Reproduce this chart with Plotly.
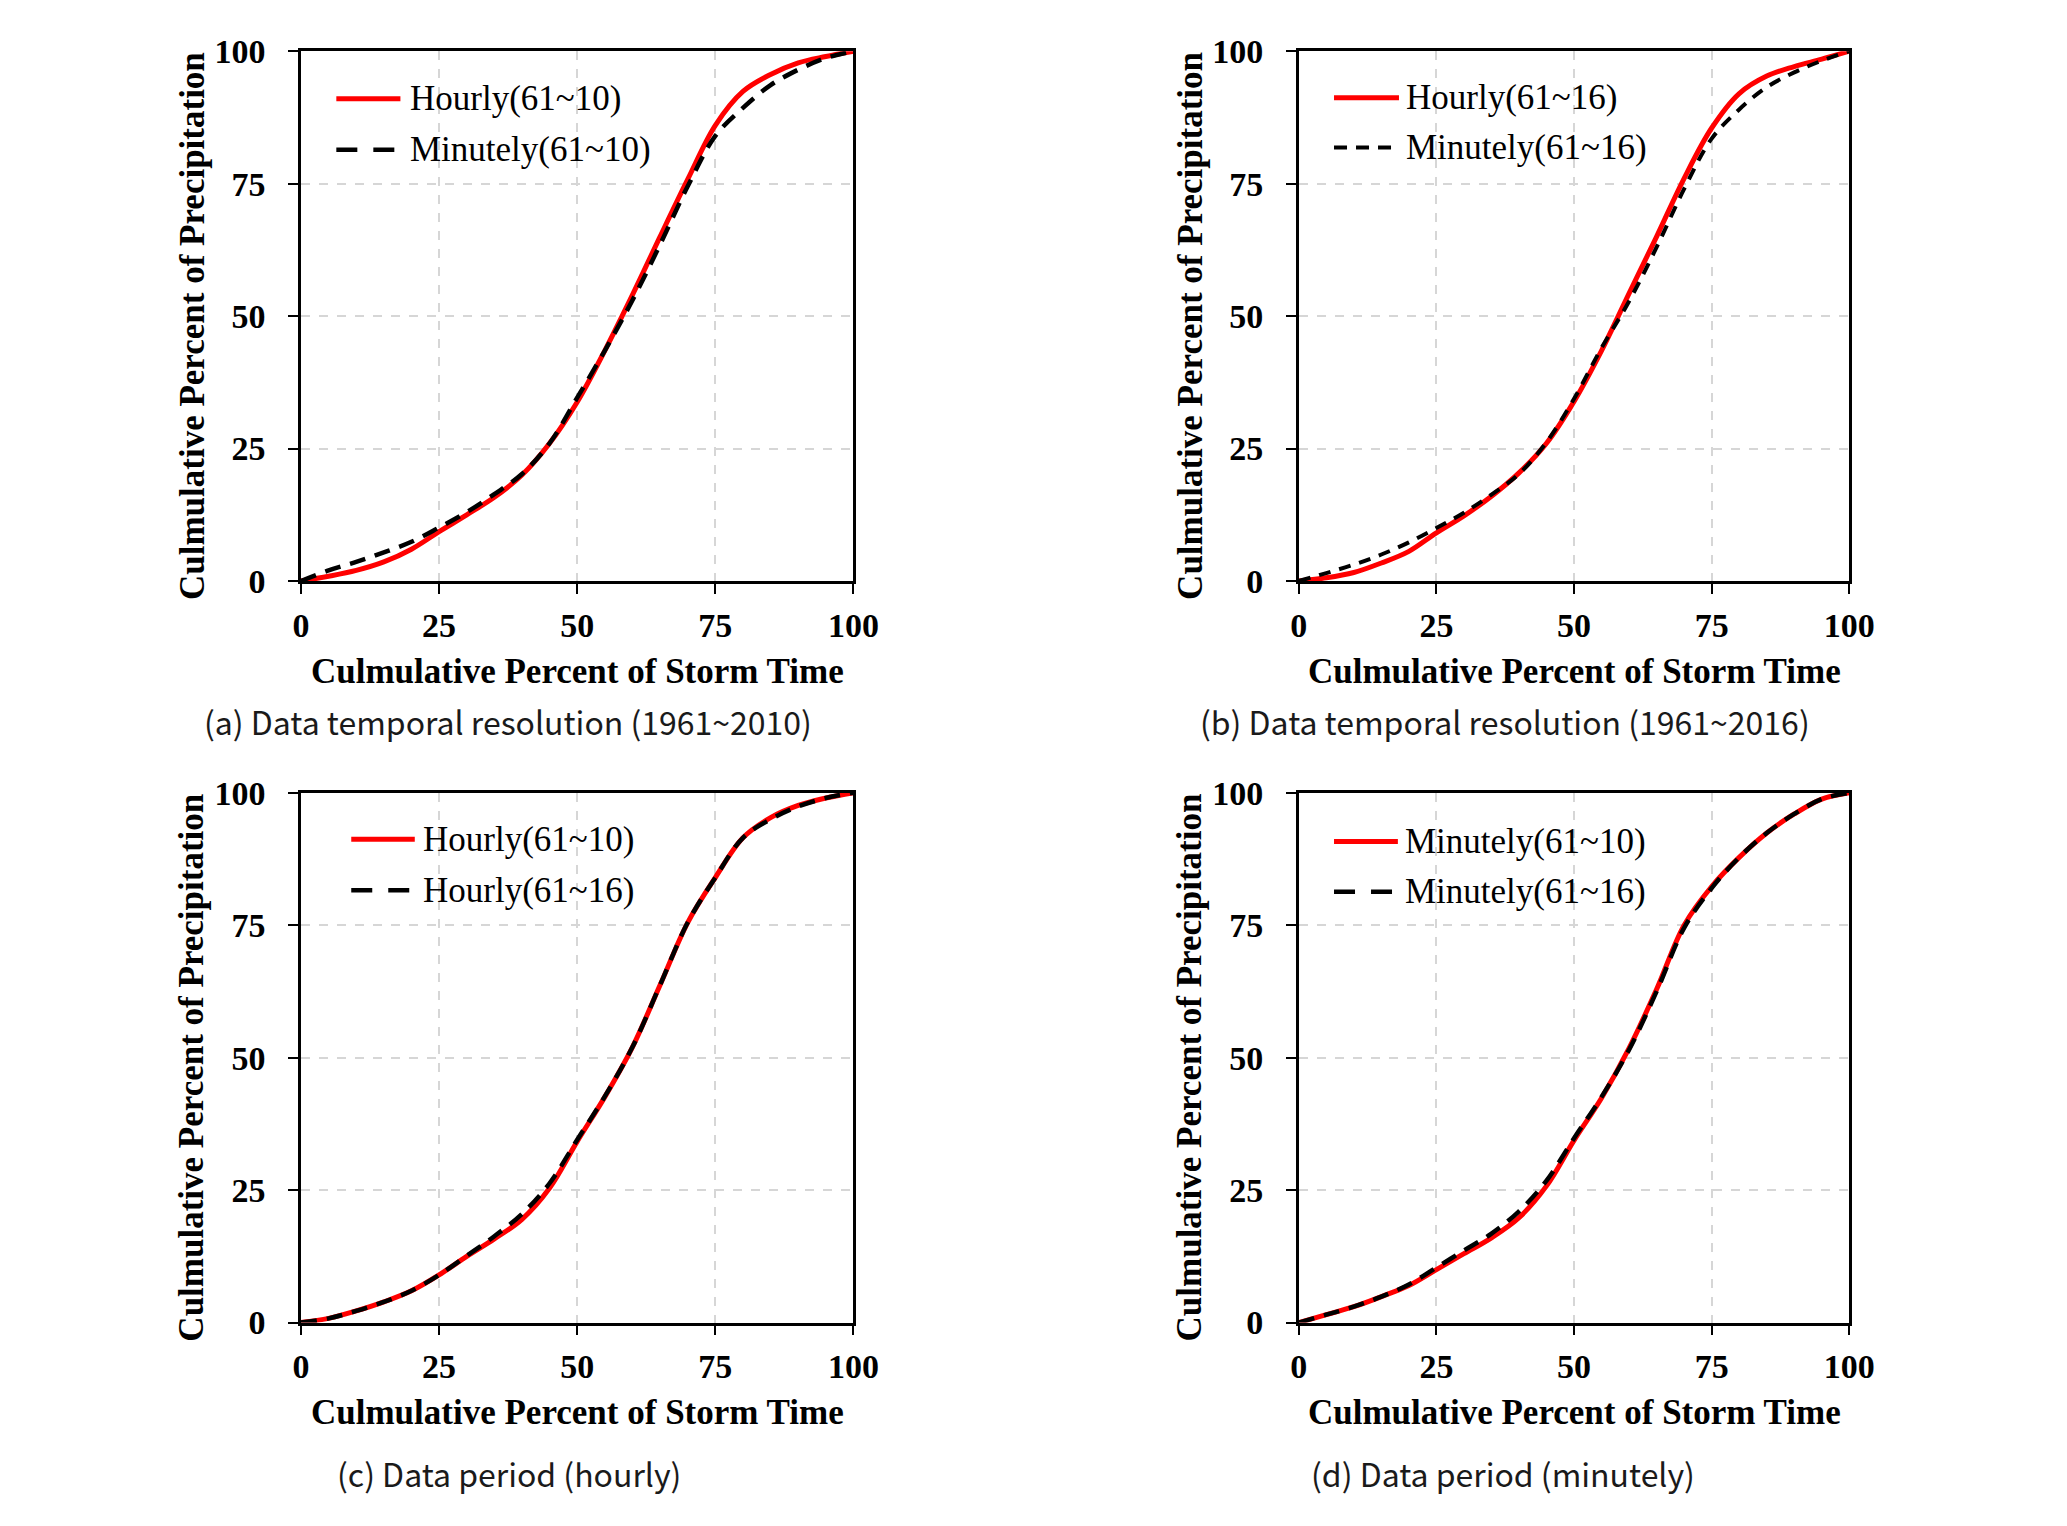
import plotly.graph_objects as go

# ---------------- data ----------------
x_pct = [0, 5, 10, 15, 20, 25, 30, 35, 40, 45, 50, 55, 60, 65, 70, 75, 80, 85, 90, 95, 100]

a_hourly_61_10 = [0, 0.9, 2.0, 3.6, 6.0, 9.3, 12.5, 15.8, 20.0, 26.0, 33.8, 43.5, 54.0, 65.0, 75.8, 86.0, 92.4, 95.6, 97.8, 99.0, 100]
a_minutely_61_10 = [0, 2.0, 3.6, 5.4, 7.4, 10.1, 13.0, 16.4, 20.2, 26.0, 34.6, 43.5, 53.0, 63.5, 74.5, 84.0, 89.3, 93.6, 96.5, 98.7, 100]

b_hourly_61_16 = [0, 0.6, 1.6, 3.4, 5.6, 9.1, 12.3, 16.0, 20.4, 26.0, 33.9, 43.5, 54.3, 65.0, 76.0, 85.5, 92.0, 95.3, 97.1, 98.5, 100]
b_minutely_61_16 = [0, 1.5, 3.1, 5.0, 7.3, 10.0, 12.9, 16.3, 20.2, 26.2, 34.4, 44.0, 52.8, 63.0, 74.0, 83.5, 89.0, 93.2, 96.0, 98.2, 100]

c_hourly_61_10 = [0, 0.8, 2.2, 3.9, 6.0, 9.0, 12.5, 15.8, 19.5, 25.4, 34.2, 42.6, 52.0, 63.7, 75.5, 84.0, 91.5, 95.3, 97.6, 99.0, 100]
c_hourly_61_16 = [0, 0.8, 2.2, 3.9, 6.0, 9.0, 12.6, 16.3, 20.5, 26.3, 34.5, 42.7, 52.0, 63.7, 75.5, 84.0, 91.5, 95.0, 97.4, 99.0, 100]

d_minutely_61_10 = [0, 1.5, 3.0, 4.9, 7.0, 10.0, 13.0, 16.0, 19.8, 25.8, 34.4, 42.4, 51.8, 62.9, 75.0, 82.3, 87.8, 92.4, 96.0, 98.8, 100]
d_minutely_61_16 = [0, 1.5, 3.0, 4.9, 7.2, 10.4, 13.6, 16.8, 21.0, 26.8, 34.8, 42.6, 51.5, 62.5, 74.5, 82.0, 87.8, 92.4, 96.0, 98.8, 100]

tick_vals = [0, 25, 50, 75, 100]
tick_text = ["0", "25", "50", "75", "100"]

series_names = [
    ("Hourly(61~10)", "Minutely(61~10)"),
    ("Hourly(61~16)", "Minutely(61~16)"),
    ("Hourly(61~10)", "Hourly(61~16)"),
    ("Minutely(61~10)", "Minutely(61~16)"),
]
series_values = [
    (a_hourly_61_10, a_minutely_61_10),
    (b_hourly_61_16, b_minutely_61_16),
    (c_hourly_61_10, c_hourly_61_16),
    (d_minutely_61_10, d_minutely_61_16),
]
captions = [
    "(a) Data temporal resolution (1961~2010)",
    "(b) Data temporal resolution (1961~2016)",
    "(c) Data period (hourly)",
    "(d) Data period (minutely)",
]
x_title = "Culmulative Percent of Storm Time"
y_title = "Culmulative Percent of Precipitation"

# ---------------- layout geometry ----------------
W, H = 2067, 1526
col_px = [(297, 859), (1312, 1872)]
row_px = [(34, 577), (794, 1337)]
panel_pos = [(0, 0), (1, 0), (0, 1), (1, 1)]
caption_y = [720, 720, 1491, 1491]
caption_x = [508, 1522, 509, 1520]
legend_x = [  # (line start, line end, text start) in axis-domain units
    (0.064, 0.180, 0.193),
    (0.064, 0.182, 0.191),
    (0.091, 0.206, 0.217),
    (0.064, 0.180, 0.190),
]
legend_rows = [(0.910, 0.814), (0.912, 0.818), (0.912, 0.816), (0.908, 0.813)]
dash_styles = ["16px,10px", "12px,9px", "16px,10px", "16px,10px"]
legend_dash = ["21px,16px", "13px,9px", "21px,16px", "21px,16px"]
dash_widths = [4.5, 4.0, 4.5, 4.5]

SERIF = "Liberation Serif, Times New Roman, serif"
CAPFONT = "Noto Sans CJK KR, Noto Sans, sans-serif"

fig = go.Figure()
annotations = []
shapes = []

for i in range(4):
    c, r = panel_pos[i]
    sfx = "" if i == 0 else str(i + 1)
    xa, ya = "x" + sfx, "y" + sfx
    xdom = [col_px[c][0] / W, col_px[c][1] / W]
    ydom = [1 - row_px[r][1] / H, 1 - row_px[r][0] / H]
    n1, n2 = series_names[i]
    v1, v2 = series_values[i]

    fig.add_trace(go.Scatter(
        x=x_pct, y=v1, name=n1, mode="lines", xaxis=xa, yaxis=ya,
        line=dict(color="#ff0000", width=5, shape="spline", smoothing=1.0),
        showlegend=False, hoverinfo="x+y+name"))
    fig.add_trace(go.Scatter(
        x=x_pct, y=v2, name=n2, mode="lines", xaxis=xa, yaxis=ya,
        line=dict(color="#000000", width=dash_widths[i], dash=dash_styles[i],
                  shape="spline", smoothing=1.0),
        showlegend=False, hoverinfo="x+y+name"))

    axis_common = dict(
        range=[0, 100], tickmode="array", tickvals=tick_vals, ticktext=tick_text,
        ticks="outside", ticklen=10, tickwidth=2, tickcolor="black",
        showline=True, linecolor="black", linewidth=2.5, mirror=True,
        showgrid=True, gridcolor="#d6d6d6", gridwidth=1.5, griddash="dash",
        zeroline=False, fixedrange=True,
        tickfont=dict(family=SERIF, size=34, color="black", weight="bold"),
    )
    fig.update_layout(**{
        ("xaxis" + sfx): dict(axis_common, domain=xdom, anchor=ya, ticklabelstandoff=2),
        ("yaxis" + sfx): dict(axis_common, domain=ydom, anchor=xa, ticklabelstandoff=16),
    })

    # axis titles
    annotations.append(dict(
        text=x_title, xref=xa + " domain", yref=ya + " domain", x=0.5, y=0,
        xanchor="center", yanchor="middle", yshift=-90, showarrow=False,
        font=dict(family=SERIF, size=35, color="black", weight="bold")))
    annotations.append(dict(
        text=y_title, xref=xa + " domain", yref=ya + " domain", x=0, y=0.5,
        xanchor="center", yanchor="middle", xshift=-109, yshift=-10,
        textangle=-90, showarrow=False,
        font=dict(family=SERIF, size=35, color="black", weight="bold")))

    # caption
    annotations.append(dict(
        text=captions[i], xref="paper", yref="paper",
        x=caption_x[i] / W, y=1 - caption_y[i] / H,
        xanchor="center", yanchor="middle", showarrow=False,
        font=dict(family=CAPFONT, size=32, color="#1a1a1a")))

    # legend (line samples + text inside the plot area)
    lx0, lx1, tx = legend_x[i]
    for k, (nm, col, wd, ds) in enumerate([
            (n1, "#ff0000", 5, "solid"),
            (n2, "#000000", dash_widths[i], legend_dash[i])]):
        yy = legend_rows[i][k]
        shapes.append(dict(
            type="line", xref=xa + " domain", yref=ya + " domain",
            x0=lx0, x1=lx1, y0=yy, y1=yy,
            line=dict(color=col, width=wd, dash=ds)))
        annotations.append(dict(
            text=nm, xref=xa + " domain", yref=ya + " domain", x=tx, y=yy,
            xanchor="left", yanchor="middle", showarrow=False,
            font=dict(family=SERIF, size=35, color="black")))

fig.update_layout(
    autosize=True,
    margin=dict(l=0, r=0, t=0, b=0),
    paper_bgcolor="white", plot_bgcolor="white",
    annotations=annotations, shapes=shapes,
    showlegend=False,
)

fig.write_html(
    "out.html",
    config={"displayModeBar": False, "responsive": True},
    default_width="100vw",
    default_height="100vh",
    post_script=(
        "document.documentElement.style.margin='0';"
        "document.documentElement.style.overflow='hidden';"
        "document.body.style.margin='0';"
        "document.body.style.overflow='hidden';"
        "Plotly.Plots.resize(document.getElementById('{plot_id}'));"
    ),
)
